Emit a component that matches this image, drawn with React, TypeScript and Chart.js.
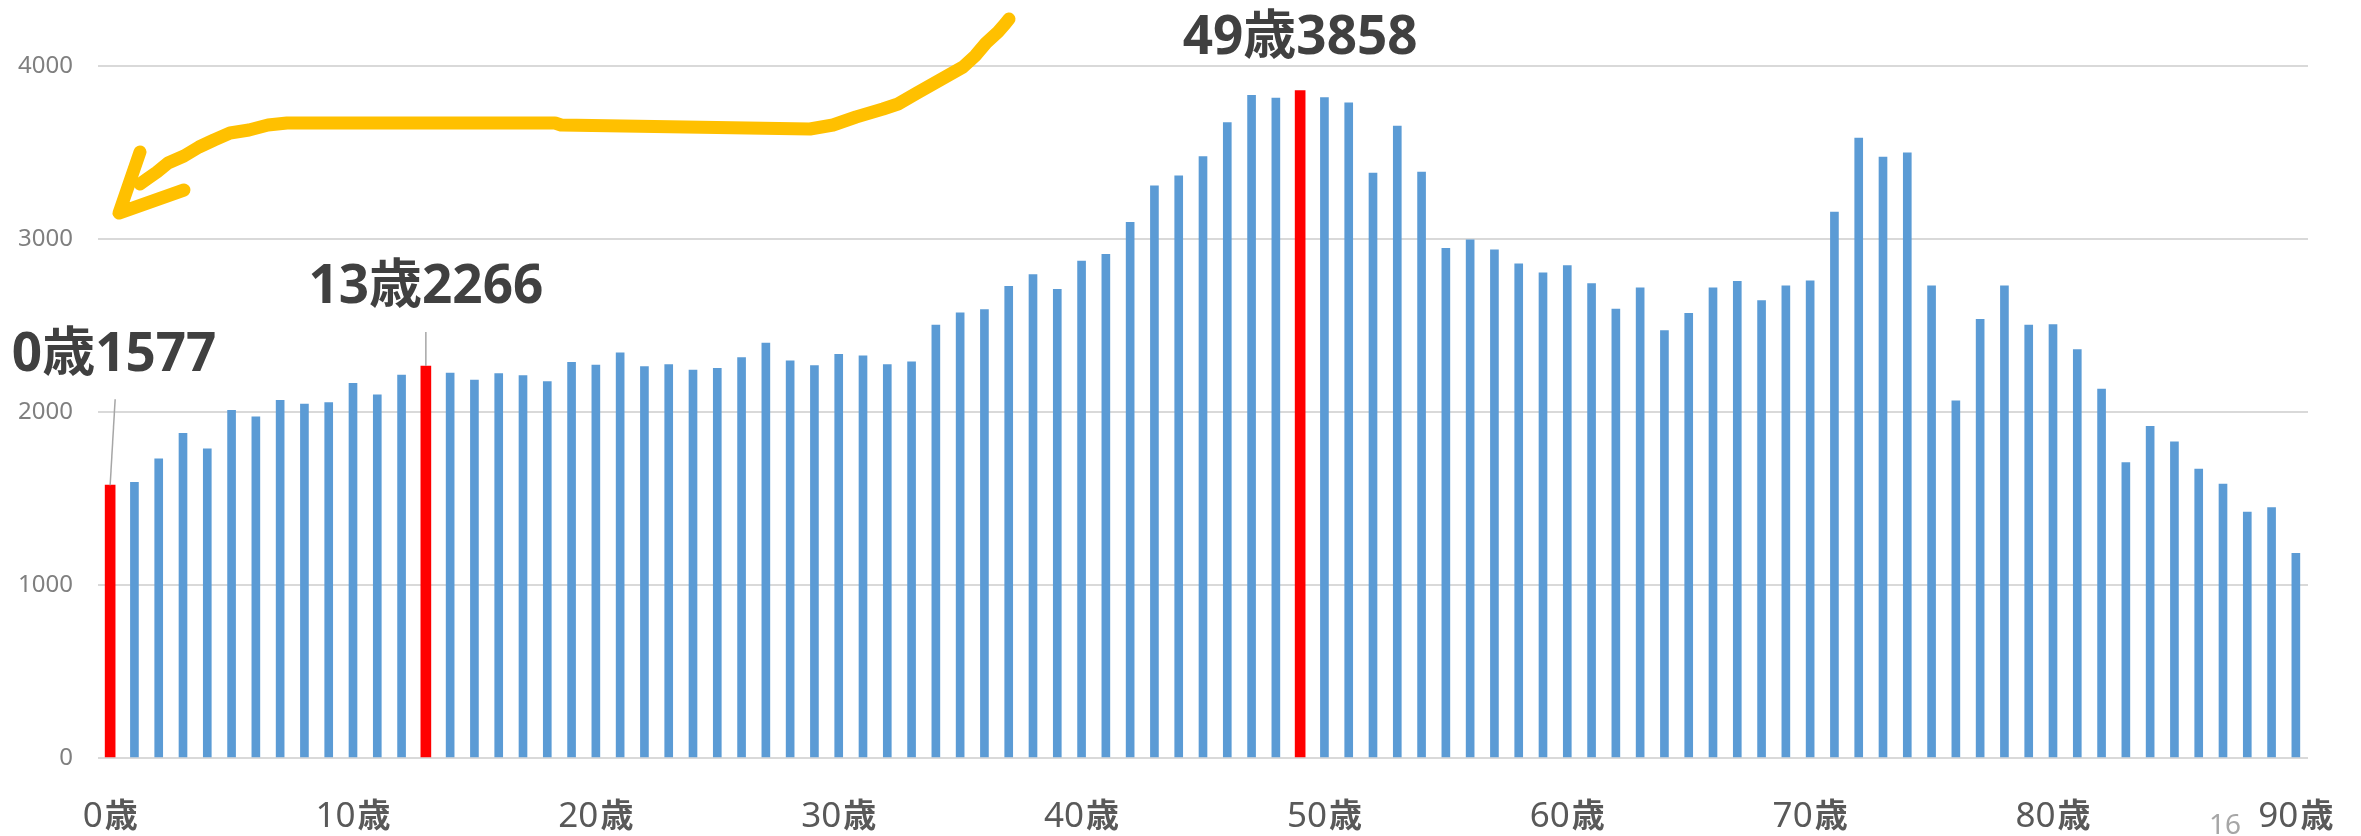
import { useEffect, useRef } from 'react';
import { Chart, registerables } from 'chart.js';

Chart.register(...registerables);

// Ages 0..90 on the category axis
const ages: number[] = Array.from({ length: 91 }, (_, i) => i);

// Population by single year of age
const counts: number[] = [
  1577, 1593, 1729, 1877, 1787, 2009, 1972, 2068, 2046, 2055,
  2166, 2099, 2213, 2266, 2225, 2185, 2222, 2210, 2176, 2287,
  2271, 2342, 2262, 2274, 2243, 2253, 2314, 2398, 2296, 2268,
  2333, 2324, 2274, 2290, 2502, 2573, 2592, 2727, 2795, 2709,
  2872, 2912, 3097, 3307, 3365, 3476, 3673, 3831, 3815, 3858,
  3818, 3787, 3381, 3652, 3387, 2946, 2995, 2937, 2857, 2804,
  2847, 2743, 2595, 2718, 2471, 2570, 2718, 2755, 2644, 2730,
  2758, 3156, 3584, 3473, 3498, 2730, 2065, 2536, 2730, 2502,
  2505, 2361, 2133, 1707, 1917, 1827, 1670, 1584, 1421, 1448,
  1183,
];

// Ages picked out in red, each with a callout
const highlighted: number[] = [0, 13, 49];

// Ages that carry an axis label
const labelledAges: number[] = [0, 10, 20, 30, 40, 50, 60, 70, 80, 90];

const yTicks: number[] = [0, 1000, 2000, 3000, 4000];
const ageSuffix = '歳';
const pageNumber = '16';

const BLUE = '#5B9BD5';
const RED = '#FF0000';
const GRID = '#D9D9D9';

// Callout placement relative to the top of each highlighted bar
const calloutLayout: Record<number, { dx: number; dy: number; line: [number, number] | null }> = {
  0: { dx: 4, dy: -114, line: [5, -86] },
  13: { dx: 0, dy: -63, line: [0, -34] },
  49: { dx: 0, dy: -37, line: null },
};

// Hand-drawn yellow arrow stroke
const arrowBody: [number, number][] = [
  [1009, 19], [1005, 24], [998, 32], [986, 43], [975, 56], [963, 67],
  [940, 80], [917, 93], [898, 104], [883, 109], [856, 117], [833, 125],
  [810, 129], [561, 125], [555, 123], [287, 123], [268, 125], [249, 130],
  [230, 133], [214, 140], [199, 147], [184, 156], [168, 163], [157, 172],
  [147, 179], [140, 184],
];
const arrowHead: [number, number][] = [[140, 152], [119, 213], [184, 190]];

// Category labels: light numerals followed by a heavier 歳
const ageLabelPlugin = {
  id: 'ageLabels',
  afterDraw(chart: any) {
    const ctx = chart.ctx;
    const xs = chart.scales.x;
    const baseline = chart.chartArea.bottom + 69;
    const numFont = '35px "Noto Sans", sans-serif';
    const sufFont = 'bold 33px "Noto Sans CJK JP", sans-serif';
    ctx.save();
    ctx.fillStyle = '#595959';
    ctx.textBaseline = 'alphabetic';
    ctx.textAlign = 'left';
    for (const age of labelledAges) {
      const cx = xs.getPixelForValue(ages.indexOf(age));
      const num = String(age);
      ctx.font = numFont;
      const wNum = ctx.measureText(num).width;
      ctx.font = sufFont;
      const wSuf = ctx.measureText(ageSuffix).width;
      const gap = 2;
      const left = cx - (wNum + gap + wSuf) / 2;
      ctx.font = numFont;
      ctx.fillText(num, left, baseline);
      ctx.font = sufFont;
      ctx.fillText(ageSuffix, left + wNum + gap, baseline);
    }
    ctx.restore();
  },
};

const calloutPlugin = {
  id: 'callouts',
  afterDatasetsDraw(chart: any) {
    const ctx = chart.ctx;
    const xs = chart.scales.x;
    const ys = chart.scales.y;
    ctx.save();
    ctx.font = 'bold 53px "Noto Sans", "Noto Sans CJK JP", sans-serif';
    ctx.fillStyle = '#404040';
    ctx.textAlign = 'center';
    ctx.textBaseline = 'alphabetic';
    for (const idx of highlighted) {
      const cfg = calloutLayout[idx];
      const bx = xs.getPixelForValue(idx);
      const by = ys.getPixelForValue(counts[idx]);
      ctx.fillText(`${ages[idx]}${ageSuffix}${counts[idx]}`, bx + cfg.dx, by + cfg.dy);
      if (cfg.line) {
        ctx.strokeStyle = '#A6A6A6';
        ctx.lineWidth = 1.5;
        ctx.beginPath();
        ctx.moveTo(bx + cfg.line[0], by + cfg.line[1]);
        ctx.lineTo(bx, by);
        ctx.stroke();
      }
    }
    ctx.restore();
  },
};

const overlayPlugin = {
  id: 'overlay',
  afterDraw(chart: any) {
    const ctx = chart.ctx;
    ctx.save();
    ctx.strokeStyle = '#FFC000';
    ctx.lineWidth = 13;
    ctx.lineCap = 'round';
    ctx.lineJoin = 'round';
    ctx.beginPath();
    arrowBody.forEach(([x, y], i) => (i === 0 ? ctx.moveTo(x, y) : ctx.lineTo(x, y)));
    ctx.stroke();
    ctx.beginPath();
    arrowHead.forEach(([x, y], i) => (i === 0 ? ctx.moveTo(x, y) : ctx.lineTo(x, y)));
    ctx.stroke();

    ctx.font = '28px "Noto Sans", sans-serif';
    ctx.fillStyle = '#A6A6A6';
    ctx.textAlign = 'left';
    ctx.textBaseline = 'alphabetic';
    ctx.fillText(pageNumber, 2209, 834);
    ctx.restore();
  },
};

export default function App() {
  const canvasRef = useRef<HTMLCanvasElement | null>(null);

  useEffect(() => {
    if (!canvasRef.current) return;
    const blueData = counts.map((v, i) => (highlighted.includes(i) ? null : v));
    const redData = counts.map((v, i) => (highlighted.includes(i) ? v : null));

    const chart = new Chart(canvasRef.current, {
      type: 'bar',
      data: {
        labels: ages.map(String),
        datasets: [
          {
            data: blueData,
            backgroundColor: BLUE,
            barThickness: 8,
            grouped: false,
          } as any,
          {
            data: redData,
            backgroundColor: RED,
            barThickness: 10,
            grouped: false,
          } as any,
        ],
      },
      options: {
        responsive: false,
        devicePixelRatio: 1,
        animation: false,
        layout: { padding: { top: 66, left: 0, right: 53, bottom: 0 } },
        plugins: {
          legend: { display: false },
          tooltip: { enabled: false },
        },
        scales: {
          x: {
            grid: { display: false },
            border: { display: false },
            ticks: { display: false },
            afterFit: (scale: any) => {
              scale.height = 78;
              scale.paddingLeft = 0;
              scale.paddingRight = 0;
            },
          },
          y: {
            min: yTicks[0],
            max: yTicks[yTicks.length - 1],
            grid: { color: GRID, lineWidth: 2, drawTicks: false, tickLength: 0 },
            border: { display: false },
            afterBuildTicks: (scale: any) => {
              scale.ticks = yTicks.map((v) => ({ value: v }));
            },
            ticks: {
              padding: 25,
              color: '#7F7F7F',
              font: { family: '"Noto Sans", sans-serif', size: 24 },
              callback: (v: any) => String(v),
            },
            afterFit: (scale: any) => {
              scale.width = 98;
            },
          },
        },
      },
      plugins: [calloutPlugin, ageLabelPlugin, overlayPlugin],
    });
    return () => chart.destroy();
  }, []);

  return (
    <div style={{ position: 'absolute', left: 0, top: 0, width: 2361, height: 836, background: '#fff' }}>
      <canvas ref={canvasRef} width={2361} height={836} style={{ display: 'block' }} />
    </div>
  );
}
